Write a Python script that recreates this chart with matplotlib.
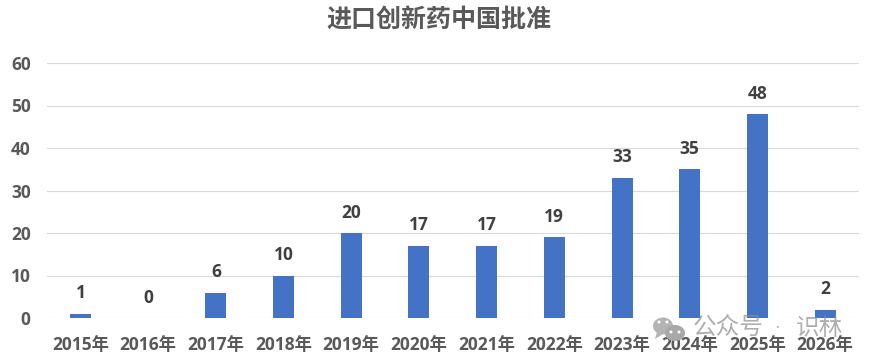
import matplotlib
matplotlib.use('Agg')
import matplotlib.pyplot as plt
from matplotlib.patches import Ellipse, Polygon

plt.rcParams['font.family'] = ['Open Sans', 'Noto Sans CJK SC', 'DejaVu Sans']

years = ['2015年', '2016年', '2017年', '2018年', '2019年', '2020年', '2021年', '2022年', '2023年', '2024年', '2025年', '2026年']
counts = [1, 0, 6, 10, 20, 17, 17, 19, 33, 35, 48, 2]
yticks = [0, 10, 20, 30, 40, 50, 60]

W, H = 869, 364
fig = plt.figure(figsize=(W/100, H/100), dpi=100)
ax = fig.add_axes([46.6/W, 1-318/H, (859-46.6)/W, (318-63)/H])

x = list(range(len(years)))
ax.bar(x, counts, width=0.31, color='#4472C4', zorder=3)

for i, v in zip(x, counts):
    ax.text(i, v + 2.7, str(v), ha='center', va='bottom', fontsize=12.5, fontweight='bold', color='#404040')

ax.set_xlim(-0.5, 11.5)
ax.set_ylim(0, 60)
ax.set_xticks(x)
ax.set_xticklabels(years, fontsize=12.5, fontweight='bold', color='#595959')
ax.set_yticks(yticks)
ax.set_yticklabels([str(t) for t in yticks], fontsize=12.5, fontweight='bold', color='#595959')
ax.tick_params(axis='x', length=0, pad=13)
ax.tick_params(axis='y', length=0, pad=11.5)
ax.grid(axis='y', color='#D9D9D9', linewidth=0.8, zorder=0)
for s in ax.spines.values():
    s.set_visible(False)

fig.text(439/W, 1-21/H, '进口创新药中国批准', ha='center', va='center', fontsize=18, fontweight='bold', color='#595959')


# watermark bottom right, sizes in pixels from the top-left corner
def bubble(cx, cy, w, h, color):
    fig.add_artist(Ellipse((cx/W, 1-cy/H), w/W, h/H, transform=fig.transFigure, facecolor=color, edgecolor='none'))


bubble(663, 326, 20, 17, '#B4B4B4')
fig.add_artist(Polygon([(657/W, 1-332/H), (655/W, 1-339/H), (663/W, 1-334/H)], transform=fig.transFigure, facecolor='#B4B4B4', edgecolor='none'))
bubble(675, 333, 20, 16, '#A8A8A8')
for ex, ey in [(659, 322), (667, 322), (671, 332), (679, 332)]:
    bubble(ex, ey, 3, 3, 'white')

wm = dict(va='center', fontsize=17, color='#8C8C8C', alpha=0.7, fontweight='light', zorder=5)
fig.text(693/W, 1-329/H, '公众号', ha='left', **wm)
fig.text(777/W, 1-329/H, '·', ha='center', **wm)
fig.text(843/W, 1-329/H, '识林', ha='right', **wm)

fig.savefig('out.png', dpi=100)
